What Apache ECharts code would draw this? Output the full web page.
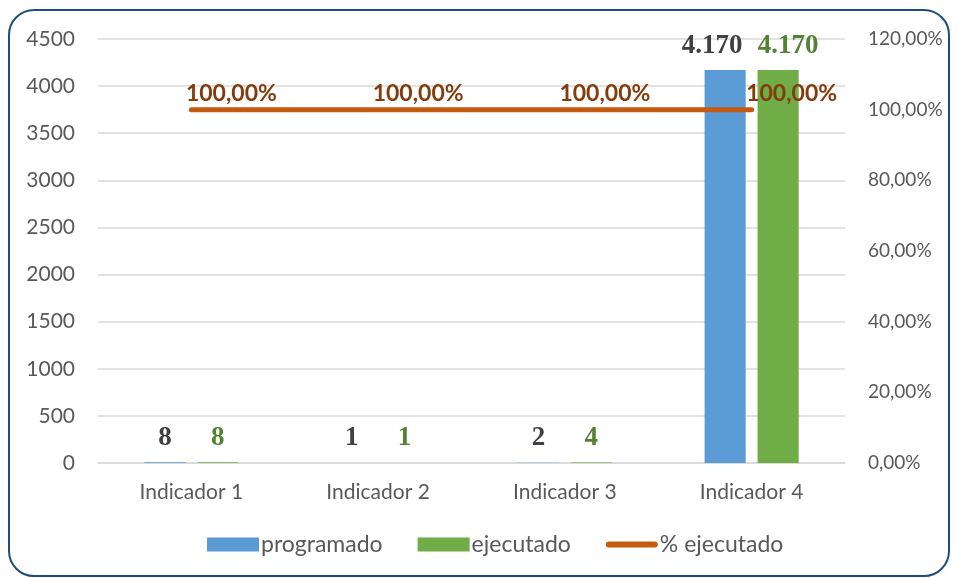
<!DOCTYPE html>
<html>
<head>
<meta charset="utf-8">
<script src="https://cdn.jsdelivr.net/npm/echarts@6/dist/echarts.min.js"></script>
<style>
  html, body { margin: 0; padding: 0; background: #fff; }
  #frame {
    position: absolute; left: 8px; top: 9px; width: 942px; height: 568px;
    border: 2px solid #1F4E79; border-radius: 26px; box-sizing: border-box;
  }
  #chart { position: absolute; left: 0; top: 0; width: 958px; height: 578px; }
</style>
</head>
<body>
<div id="frame"></div>
<div id="chart"></div>
<script>
// datos del gráfico
const categories = ['Indicador 1', 'Indicador 2', 'Indicador 3', 'Indicador 4'];
const programado = [8, 1, 2, 4170];
const ejecutado = [8, 1, 4, 4170];
const pctEjecutado = [100, 100, 100, 100]; // %
const leftTicks = { min: 0, max: 4500, step: 500 };
const rightTicks = { min: 0, max: 120, step: 20 };

const fmtMiles = v => String(v).replace(/\B(?=(\d{3})+(?!\d))/g, '.');
const fmtPct = v => v.toFixed(2).replace('.', ',') + '%';

// las etiquetas grandes se separan un poco como en Excel
const conOffset = (arr, dx) => arr.map(v => (v >= 1000 ? { value: v, label: { offset: [dx, 0] } } : v));

const myChart = echarts.init(document.getElementById('chart'));
const axisText = { color: '#595959', fontSize: 21, fontFamily: 'Lato' };
const barLabel = {
  show: true,
  position: 'top',
  distance: 11,
  fontSize: 27,
  fontWeight: 'bold',
  fontFamily: 'Liberation Serif',
  formatter: p => fmtMiles(p.value)
};
const option = {
  animation: false,
  color: ['#5B9BD5', '#70AD47', '#C55A11'],
  grid: { left: 98, right: 113, top: 39, bottom: 115 },
  legend: {
    bottom: 17,
    left: 202,
    itemGap: 35,
    itemWidth: 52,
    itemHeight: 14,
    textStyle: { color: '#595959', fontSize: 23, fontFamily: 'Lato', padding: [0, 0, 0, -3] },
    data: [
      { name: 'programado', icon: 'rect' },
      { name: 'ejecutado', icon: 'rect' },
      {
        name: '% ejecutado',
        icon: 'path://M3,0 L49,0 A3,3 0 0 1 49,6 L3,6 A3,3 0 0 1 3,0 Z',
        itemStyle: { color: '#C55A11' }
      }
    ]
  },
  xAxis: {
    type: 'category',
    data: categories,
    axisTick: { show: false },
    axisLine: { lineStyle: { color: '#D9D9D9', width: 1.5 } },
    axisLabel: Object.assign({ margin: 19 }, axisText)
  },
  yAxis: [
    {
      type: 'value',
      min: leftTicks.min,
      max: leftTicks.max,
      interval: leftTicks.step,
      axisLabel: Object.assign({ margin: 23, formatter: v => String(v) }, axisText),
      axisLine: { show: false },
      splitLine: { lineStyle: { color: '#D9D9D9', width: 1.5 } }
    },
    {
      type: 'value',
      min: rightTicks.min,
      max: rightTicks.max,
      interval: rightTicks.step,
      position: 'right',
      axisLabel: Object.assign({}, axisText, { margin: 23, fontSize: 19, formatter: fmtPct }),
      axisLine: { show: false },
      splitLine: { show: false }
    }
  ],
  series: [
    {
      name: 'programado',
      type: 'bar',
      barWidth: '22%',
      barGap: '29%',
      data: conOffset(programado, -13),
      label: Object.assign({ color: '#404040' }, barLabel)
    },
    {
      name: 'ejecutado',
      type: 'bar',
      barWidth: '22%',
      data: conOffset(ejecutado, 10),
      label: Object.assign({ color: '#548235' }, barLabel)
    },
    {
      name: '% ejecutado',
      type: 'line',
      yAxisIndex: 1,
      symbol: 'circle',
      symbolSize: 0.1,
      data: pctEjecutado,
      itemStyle: { color: '#C55A11' },
      lineStyle: { color: '#C55A11', width: 5, cap: 'round' },
      label: {
        show: true,
        position: 'top',
        offset: [40, 0],
        color: '#843C0C',
        fontSize: 23,
        fontWeight: 'bold',
        fontFamily: 'Lato',
        formatter: p => fmtPct(p.value)
      },
      z: 5
    }
  ]
};
myChart.setOption(option);
</script>
</body>
</html>
